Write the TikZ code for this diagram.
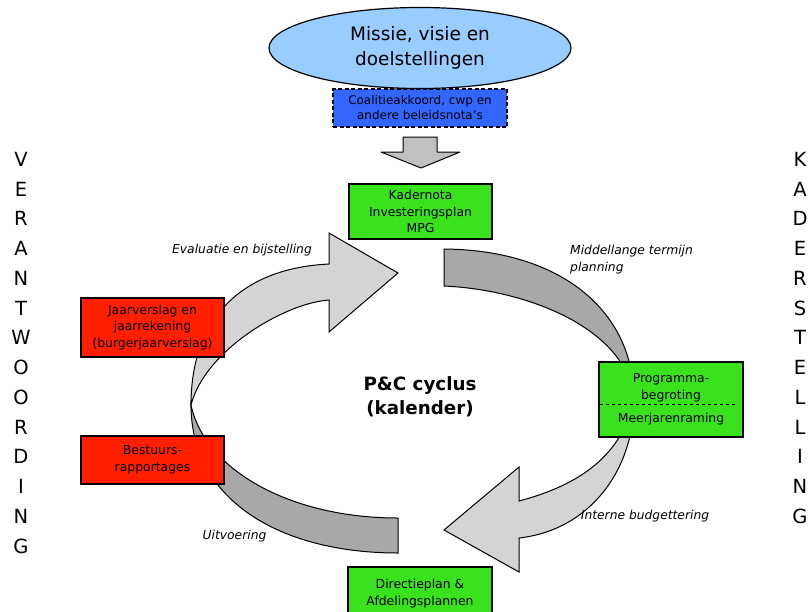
\documentclass[tikz,border=0pt]{standalone}
\usepackage{fontspec}
\setmainfont{DejaVu Sans}
\usepackage{tkz-euclide}
\usetikzlibrary{shapes.geometric}

\definecolor{missieblauw}{RGB}{153,204,255}
\definecolor{notablauw}{RGB}{51,102,255}
\definecolor{kadergroen}{RGB}{58,226,30}
\definecolor{verantrood}{RGB}{255,32,0}
\definecolor{pijllicht}{RGB}{212,212,212}
\definecolor{pijldonker}{RGB}{168,168,168}
\definecolor{pijlgrijs}{RGB}{192,192,192}

\tikzset{
  boxtekst/.style={font=\fontsize{12.4}{16.5}\selectfont, align=center, inner sep=0pt},
  groenbox/.style={boxtekst, draw, line width=1.2pt, fill=kadergroen, minimum width=143pt},
  roodbox/.style={boxtekst, draw, line width=1.2pt, fill=verantrood, minimum width=143pt},
  cyclustekst/.style={font=\fontsize{12.3}{16.4}\selectfont\itshape, inner sep=0pt},
  letters/.style={font=\fontsize{19.5}{29.75}\selectfont, align=center, inner sep=0pt, anchor=north},
  lichtpijl/.style={fill=pijllicht, draw, line width=1pt},
  donkerpijl/.style={fill=pijldonker, draw, line width=1pt}
}

\begin{document}
\begin{tikzpicture}[x=1pt,y=-1pt]
                    \path[use as bounding box, fill=white] (0,0) rectangle (810,611);
                    \filldraw[donkerpijl] (191,405) .. controls (191,500) and (280,553) .. (398,553) -- (398,518)
                        .. controls (290,518) and (205,470) .. (191,405) -- cycle;
                    \filldraw[lichtpijl] (329,264) .. controls (245,268) and (191,315) .. (191,405)
                        .. controls (205,350) and (285,303) .. (329,300) -- (329,332) -- (398,273) -- (329,233) -- cycle;
                    \filldraw[donkerpijl] (444,249) .. controls (560,250) and (634,310) .. (634,400)
                        .. controls (628,330) and (530,290) .. (444,286) -- cycle;
                    \filldraw[lichtpijl] (634,400) .. controls (634,470) and (590,530) .. (519,538) -- (519,572) -- (444,530)
                        -- (519,467) -- (519,501) .. controls (580,485) and (622,455) .. (634,400) -- cycle;
                    \tkzDefPoints{403/137/A,437/137/B,437/152/C,460/152/D,421/168/E,381/152/F,403/152/G}
                    \tkzDrawPolygon[fill=pijlgrijs,line width=1pt](A,B,C,D,E,F,G)
                    \node[ellipse, draw, line width=1.2pt, fill=missieblauw, minimum width=302pt, minimum height=81pt,
                        inner sep=0pt, align=center, font=\fontsize{18.5}{25}\selectfont] (missie) at (420,48) {Missie, visie en\\doelstellingen};
                    \node[boxtekst, font=\fontsize{12}{15}\selectfont, draw, dash pattern=on 4pt off 2.5pt, line width=1.6pt,
                        fill=notablauw, minimum width=174pt, minimum height=38pt] (coalitie) at (420,108) {Coalitieakkoord, cwp en\\andere beleidsnota’s};
                    \node[groenbox, minimum height=55pt] (kader) at (420.5,211.5) {Kadernota\\Investeringsplan\\MPG};
                    \node[groenbox, minimum width=144pt, minimum height=75pt] (programma) at (671,399.5) {};
                    \draw[dashed, line width=1pt] (600,404) -- (735,404);
                    \node[boxtekst] (begroting) at (671,388) {Programma-\\begroting};
                    \node[boxtekst] (meerjaren) at (671,419.5) {Meerjarenraming};
                    \node[groenbox, minimum width=144pt, minimum height=53pt] (directie) at (420,593.5) {Directieplan \&\\Afdelingsplannen};
                    \node[roodbox, minimum height=59pt] (jaarverslag) at (152.5,327.5) {Jaarverslag en\\jaarrekening\\(burgerjaarverslag)};
                    \node[roodbox, minimum height=48pt] (bestuurs) at (152.5,460) {Bestuurs-\\rapportages};
                    \node[cyclustekst] (evaluatie) at (242,250) {Evaluatie en bijstelling};
                    \node[cyclustekst, align=left, anchor=west] (middellang) at (570,259.4) {Middellange termijn\\planning};
                    \node[cyclustekst] (budget) at (645,516) {Interne budgettering};
                    \node[cyclustekst] (uitvoering) at (234.5,536) {Uitvoering};
                    \node[font=\fontsize{18.3}{24}\selectfont\bfseries, align=center, inner sep=0pt] (cyclus) at (420,397) {P\&C cyclus\\(kalender)};
                    \node[letters] (verantwoording) at (21,152) {V\\E\\R\\A\\N\\T\\W\\O\\O\\R\\D\\I\\N\\G};
                    \node[letters] (kaderstelling) at (800,152) {K\\A\\D\\E\\R\\S\\T\\E\\L\\L\\I\\N\\G};
                \end{tikzpicture}
\end{document}
